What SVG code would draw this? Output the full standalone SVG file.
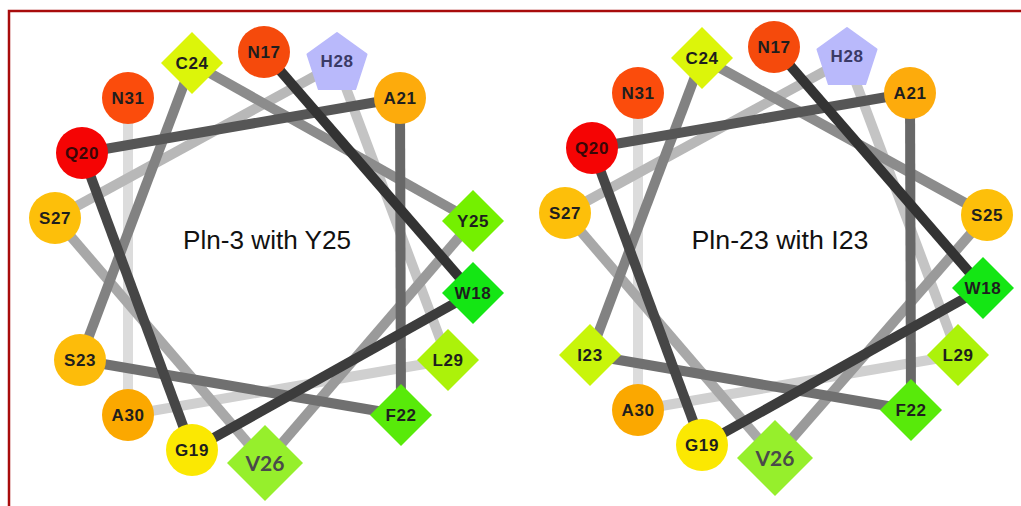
<svg xmlns="http://www.w3.org/2000/svg" width="1021" height="506" viewBox="0 0 1021 506">
  <style>
    .bg { fill: #ffffff; }
    .frame { fill: none; stroke: #a80c0c; stroke-width: 2.5; }
    .bond { stroke-width: 10; stroke-linecap: butt; fill: none; }
    .lbl { font-family: "Liberation Sans", Arial, sans-serif; font-weight: bold; font-size: 17px; fill: #1e1e1e; text-anchor: middle; letter-spacing: 0.6px; }
    .big { font-family: Lato, "Open Sans", sans-serif; font-weight: bold; font-size: 21px; fill: #4a4a4a; text-anchor: middle; }
    .title { font-family: "Liberation Sans", Arial, sans-serif; font-size: 26px; fill: #111111; text-anchor: middle; }
  </style>
  <defs>
    <polygon id="pent" points="0,-31 29.5,-9.6 18.2,25.1 -18.2,25.1 -29.5,-9.6"/>
  </defs>
  <rect class="bg" x="0" y="0" width="1021" height="506"/>
  <path class="frame" d="M9,506 V11 H1021"/>

  <!-- left helical wheel: Pln-3 -->
  <g id="wheel-pln3">
    <g id="pln3-bonds">
      <line class="bond" x1="128" y1="415" x2="128" y2="98" stroke="#dcdcdc"/>
      <line class="bond" x1="448" y1="360" x2="128" y2="415" stroke="#d0d0d0"/>
      <line class="bond" x1="337" y1="64" x2="448" y2="360" stroke="#c4c4c4"/>
      <line class="bond" x1="55" y1="218" x2="337" y2="64" stroke="#b8b8b8"/>
      <line class="bond" x1="265" y1="463" x2="55" y2="218" stroke="#a8a8a8"/>
      <line class="bond" x1="473" y1="221" x2="265" y2="463" stroke="#9a9a9a"/>
      <line class="bond" x1="192" y1="63" x2="473" y2="221" stroke="#8c8c8c"/>
      <line class="bond" x1="80" y1="360" x2="192" y2="63" stroke="#828282"/>
      <line class="bond" x1="401" y1="415" x2="80" y2="360" stroke="#707070"/>
      <line class="bond" x1="400" y1="98" x2="401" y2="415" stroke="#686868"/>
      <line class="bond" x1="82" y1="153" x2="400" y2="98" stroke="#565656"/>
      <line class="bond" x1="192" y1="450" x2="82" y2="153" stroke="#464646"/>
      <line class="bond" x1="473" y1="293" x2="192" y2="450" stroke="#3c3c3c"/>
      <line class="bond" x1="264" y1="52" x2="473" y2="293" stroke="#333333" stroke-width="11"/>
    </g>
    <g id="pln3-N17"><circle cx="264" cy="52" r="26" fill="#f54a0c"/><text class="lbl" x="264" y="58">N17</text></g>
    <g id="pln3-W18"><polygon points="473,262 504,293 473,324 442,293" fill="#14e614"/><text class="lbl" x="473" y="299">W18</text></g>
    <g id="pln3-G19"><circle cx="192" cy="450" r="26" fill="#fbe802"/><text class="lbl" x="192" y="456">G19</text></g>
    <g id="pln3-Q20"><circle cx="82" cy="153" r="26" fill="#f50404"/><text class="lbl" x="82" y="159" style="fill:#3a0606">Q20</text></g>
    <g id="pln3-A21"><circle cx="400" cy="98" r="26" fill="#fdab0c"/><text class="lbl" x="400" y="104">A21</text></g>
    <g id="pln3-F22"><polygon points="401,384 432,415 401,446 370,415" fill="#58ea0a"/><text class="lbl" x="401" y="421">F22</text></g>
    <g id="pln3-S23"><circle cx="80" cy="360" r="26" fill="#fdbc0a"/><text class="lbl" x="80" y="366">S23</text></g>
    <g id="pln3-C24"><polygon points="192,32 223,63 192,94 161,63" fill="#dcf50a"/><text class="lbl" x="192" y="69">C24</text></g>
    <g id="pln3-Y25"><polygon points="473,190 504,221 473,252 442,221" fill="#74f000"/><text class="lbl" x="473" y="227">Y25</text></g>
    <g id="pln3-V26"><circle cx="265" cy="465" r="25" fill="#fbe24a"/><polygon points="265,425 303,463 265,501 227,463" fill="#96ef2c"/><text class="big" x="265" y="471">V26</text></g>
    <g id="pln3-S27"><circle cx="55" cy="218" r="26" fill="#fdbf0a"/><text class="lbl" x="55" y="224">S27</text></g>
    <g id="pln3-H28"><use href="#pent" x="337" y="64" fill="#b9b9fb" stroke="#b9b9fb" stroke-width="2" stroke-linejoin="round"/><text class="lbl" x="337" y="67" style="fill:#3a3a66">H28</text></g>
    <g id="pln3-L29"><polygon points="448,329 479,360 448,391 417,360" fill="#acf20a"/><text class="lbl" x="448" y="366">L29</text></g>
    <g id="pln3-A30"><circle cx="128" cy="415" r="26" fill="#fba800"/><text class="lbl" x="128" y="421">A30</text></g>
    <g id="pln3-N31"><circle cx="128" cy="98" r="26" fill="#fb4c0c"/><text class="lbl" x="128" y="104">N31</text></g>
    <text class="title" x="267" y="249" textLength="168" lengthAdjust="spacingAndGlyphs">Pln-3 with Y25</text>
  </g>

  <!-- right helical wheel: Pln-23 -->
  <g id="wheel-pln23" transform="translate(510,-5)">
    <g id="pln23-bonds">
      <line class="bond" x1="128" y1="415" x2="128" y2="98" stroke="#dcdcdc"/>
      <line class="bond" x1="448" y1="360" x2="128" y2="415" stroke="#d0d0d0"/>
      <line class="bond" x1="337" y1="64" x2="448" y2="360" stroke="#c4c4c4"/>
      <line class="bond" x1="55" y1="218" x2="337" y2="64" stroke="#b8b8b8"/>
      <line class="bond" x1="265" y1="463" x2="55" y2="218" stroke="#a8a8a8"/>
      <line class="bond" x1="477" y1="220" x2="265" y2="463" stroke="#9a9a9a"/>
      <line class="bond" x1="192" y1="63" x2="477" y2="220" stroke="#8c8c8c"/>
      <line class="bond" x1="80" y1="360" x2="192" y2="63" stroke="#828282"/>
      <line class="bond" x1="401" y1="415" x2="80" y2="360" stroke="#707070"/>
      <line class="bond" x1="400" y1="98" x2="401" y2="415" stroke="#686868"/>
      <line class="bond" x1="82" y1="153" x2="400" y2="98" stroke="#565656"/>
      <line class="bond" x1="192" y1="450" x2="82" y2="153" stroke="#464646"/>
      <line class="bond" x1="473" y1="293" x2="192" y2="450" stroke="#3c3c3c"/>
      <line class="bond" x1="264" y1="52" x2="473" y2="293" stroke="#333333" stroke-width="11"/>
    </g>
    <g id="pln23-N17"><circle cx="264" cy="52" r="26" fill="#f54a0c"/><text class="lbl" x="264" y="58">N17</text></g>
    <g id="pln23-W18"><polygon points="473,262 504,293 473,324 442,293" fill="#14e614"/><text class="lbl" x="473" y="299">W18</text></g>
    <g id="pln23-G19"><circle cx="192" cy="450" r="26" fill="#fbe802"/><text class="lbl" x="192" y="456">G19</text></g>
    <g id="pln23-Q20"><circle cx="82" cy="153" r="26" fill="#f50404"/><text class="lbl" x="82" y="159" style="fill:#3a0606">Q20</text></g>
    <g id="pln23-A21"><circle cx="400" cy="98" r="26" fill="#fdab0c"/><text class="lbl" x="400" y="104">A21</text></g>
    <g id="pln23-F22"><polygon points="401,384 432,415 401,446 370,415" fill="#58ea0a"/><text class="lbl" x="401" y="421">F22</text></g>
    <g id="pln23-I23"><polygon points="80,329 111,360 80,391 49,360" fill="#c8f50a"/><text class="lbl" x="80" y="366">I23</text></g>
    <g id="pln23-C24"><polygon points="192,32 223,63 192,94 161,63" fill="#dcf50a"/><text class="lbl" x="192" y="69">C24</text></g>
    <g id="pln23-S25"><circle cx="477" cy="220" r="26" fill="#fdbf0a"/><text class="lbl" x="477" y="226">S25</text></g>
    <g id="pln23-V26"><circle cx="265" cy="465" r="25" fill="#fdb830"/><polygon points="265,425 303,463 265,501 227,463" fill="#96ef2c"/><text class="big" x="265" y="471">V26</text></g>
    <g id="pln23-S27"><circle cx="55" cy="218" r="26" fill="#fdbf0a"/><text class="lbl" x="55" y="224">S27</text></g>
    <g id="pln23-H28"><use href="#pent" x="337" y="64" fill="#b9b9fb" stroke="#b9b9fb" stroke-width="2" stroke-linejoin="round"/><text class="lbl" x="337" y="67" style="fill:#3a3a66">H28</text></g>
    <g id="pln23-L29"><polygon points="448,329 479,360 448,391 417,360" fill="#acf20a"/><text class="lbl" x="448" y="366">L29</text></g>
    <g id="pln23-A30"><circle cx="128" cy="415" r="26" fill="#fba800"/><text class="lbl" x="128" y="421">A30</text></g>
    <g id="pln23-N31"><circle cx="128" cy="98" r="26" fill="#fb4c0c"/><text class="lbl" x="128" y="104">N31</text></g>
    <text class="title" x="270" y="254" textLength="177" lengthAdjust="spacingAndGlyphs">Pln-23 with I23</text>
  </g>
</svg>
